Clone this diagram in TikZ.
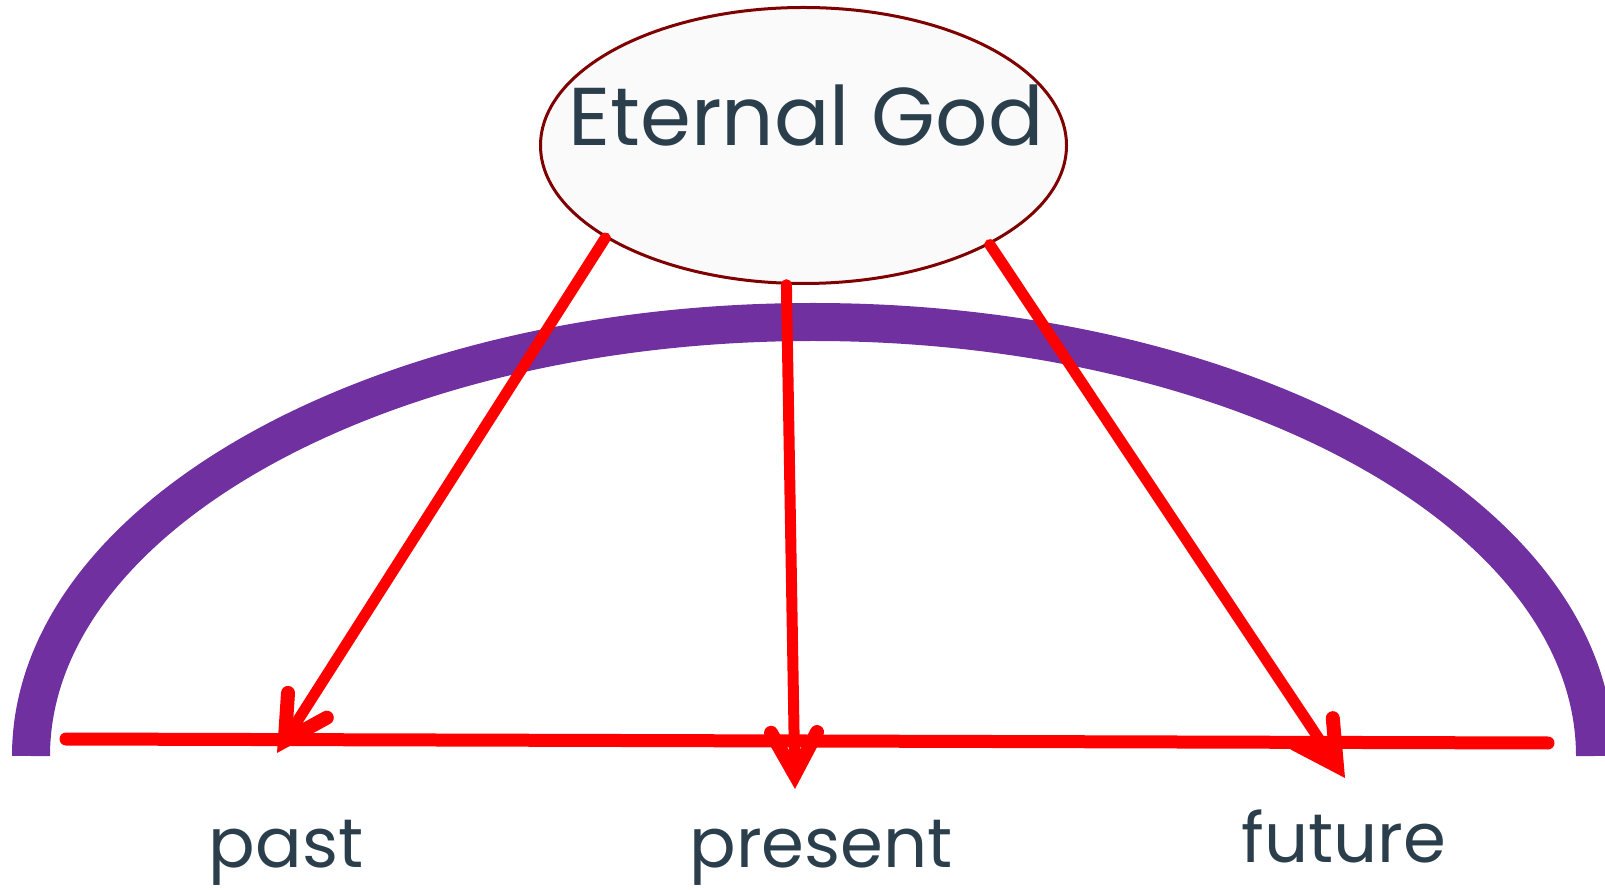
\documentclass[tikz,border=0pt]{standalone}
\usepackage{fontspec}
\setmainfont{Poppins}
\usetikzlibrary{arrows.meta,shapes.geometric}
\definecolor{arcpurple}{HTML}{7030A0}
\definecolor{godred}{HTML}{7F0000}
\definecolor{txt}{HTML}{2B3E4C}
\definecolor{ellfill}{HTML}{FAFAFA}
\tikzset{
  timeline/.style={draw=red, line width=13pt, line cap=round},
  godarrow/.style={draw=red, line width=11pt, line cap=round,
    -{Straight Barb[length=42pt, width=46pt, line width'=14pt, line cap=round, line join=miter]}},
  eternity/.style={draw=arcpurple, line width=38pt},
  godellipse/.style={ellipse, draw=godred, line width=3pt, fill=ellfill,
    minimum width=526pt, minimum height=276pt, inner sep=0pt},
  bigtext/.style={text=txt, inner sep=0pt, anchor=base, font=\fontsize{82}{90}\selectfont},
  lbltext/.style={text=txt, inner sep=0pt, anchor=base, font=\fontsize{69}{80}\selectfont}
}
\begin{document}
\begin{tikzpicture}[x=1pt,y=1pt]
\useasboundingbox (0,0) rectangle (1605,889);
% eternity arc
\draw[eternity] (31,133) arc[start angle=180, end angle=0, x radius=782, y radius=434];
% God ellipse
\node[godellipse] (god) at (803.5,743.5) {};
\node[bigtext] (godtext) at (806,743) {Eternal God};
% time line
\coordinate (tl) at (66,150);
\coordinate (tr) at (1548,146);
\draw[timeline] (tl) -- (tr);
% arrow tips
\coordinate (pastpt) at (277,136);
\coordinate (prespt) at (795,100);
\coordinate (futpt) at (1345,111);
\draw[godarrow] (god.205) -- (pastpt);
\draw[godarrow] (god.263) -- (prespt);
\draw[godarrow] (god.332) -- (futpt);
% labels
\node[lbltext] (past) at (286,22) {past};
\node[lbltext] (present) at (821,22) {present};
\node[lbltext] (future) at (1344,27) {future};
\end{tikzpicture}
\end{document}
